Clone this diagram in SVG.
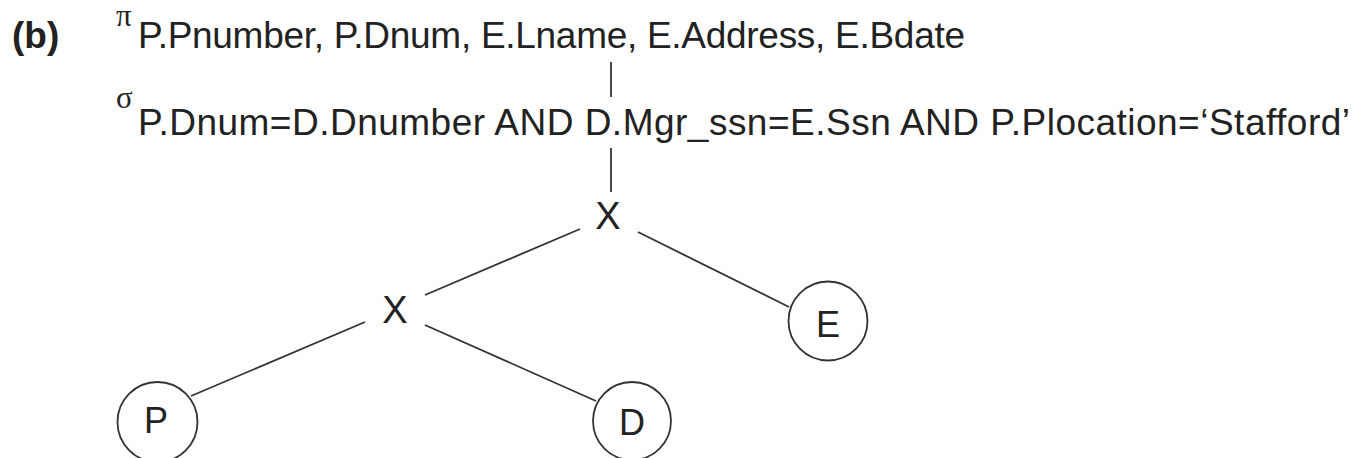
<svg xmlns="http://www.w3.org/2000/svg" width="1358" height="458" viewBox="0 0 1358 458">
<style>
.t{font-family:"Liberation Sans",Arial,sans-serif;fill:#222;}
.g{font-family:"Liberation Serif","Times New Roman",serif;fill:#222;}
.e{stroke:#333;stroke-width:1.8;fill:none;}
.n{stroke:#333;stroke-width:1.8;fill:#fff;}
</style>
<rect width="1358" height="458" fill="#fff"/>
<text class="t" x="12" y="48" font-size="37" font-weight="bold">(b)</text>
<g id="project">
<text class="g" x="116" y="26" font-size="31">π</text>
<text class="t" x="138" y="48" font-size="37" textLength="827" lengthAdjust="spacing">P.Pnumber, P.Dnum, E.Lname, E.Address, E.Bdate</text>
</g>
<g id="select">
<text class="g" x="116" y="108" font-size="31">σ</text>
<text class="t" x="138" y="135" font-size="37" textLength="1212" lengthAdjust="spacing">P.Dnum=D.Dnumber AND D.Mgr_ssn=E.Ssn AND P.Plocation=‘Stafford’</text>
</g>
<g id="x1"><text class="t" x="608" y="229" font-size="38" text-anchor="middle">X</text></g>
<g id="x2"><text class="t" x="395" y="323" font-size="38" text-anchor="middle">X</text></g>
<g id="nodeP"><circle class="n" cx="157.5" cy="422" r="40"/><text class="t" x="156" y="433" font-size="36" text-anchor="middle">P</text></g>
<g id="nodeD"><circle class="n" cx="632" cy="421" r="39"/><text class="t" x="632" y="435" font-size="36" text-anchor="middle">D</text></g>
<g id="nodeE"><circle class="n" cx="828" cy="321" r="39.5"/><text class="t" x="828" y="337" font-size="36" text-anchor="middle">E</text></g>
<g id="connectors">
<line class="e" x1="611" y1="62" x2="611" y2="97"/>
<line class="e" x1="611" y1="148" x2="611" y2="192"/>
<line class="e" x1="580" y1="229" x2="425" y2="295"/>
<line class="e" x1="638" y1="232" x2="789" y2="307"/>
<line class="e" x1="365" y1="322" x2="191" y2="396"/>
<line class="e" x1="425" y1="325" x2="596" y2="401"/>
</g>
</svg>
